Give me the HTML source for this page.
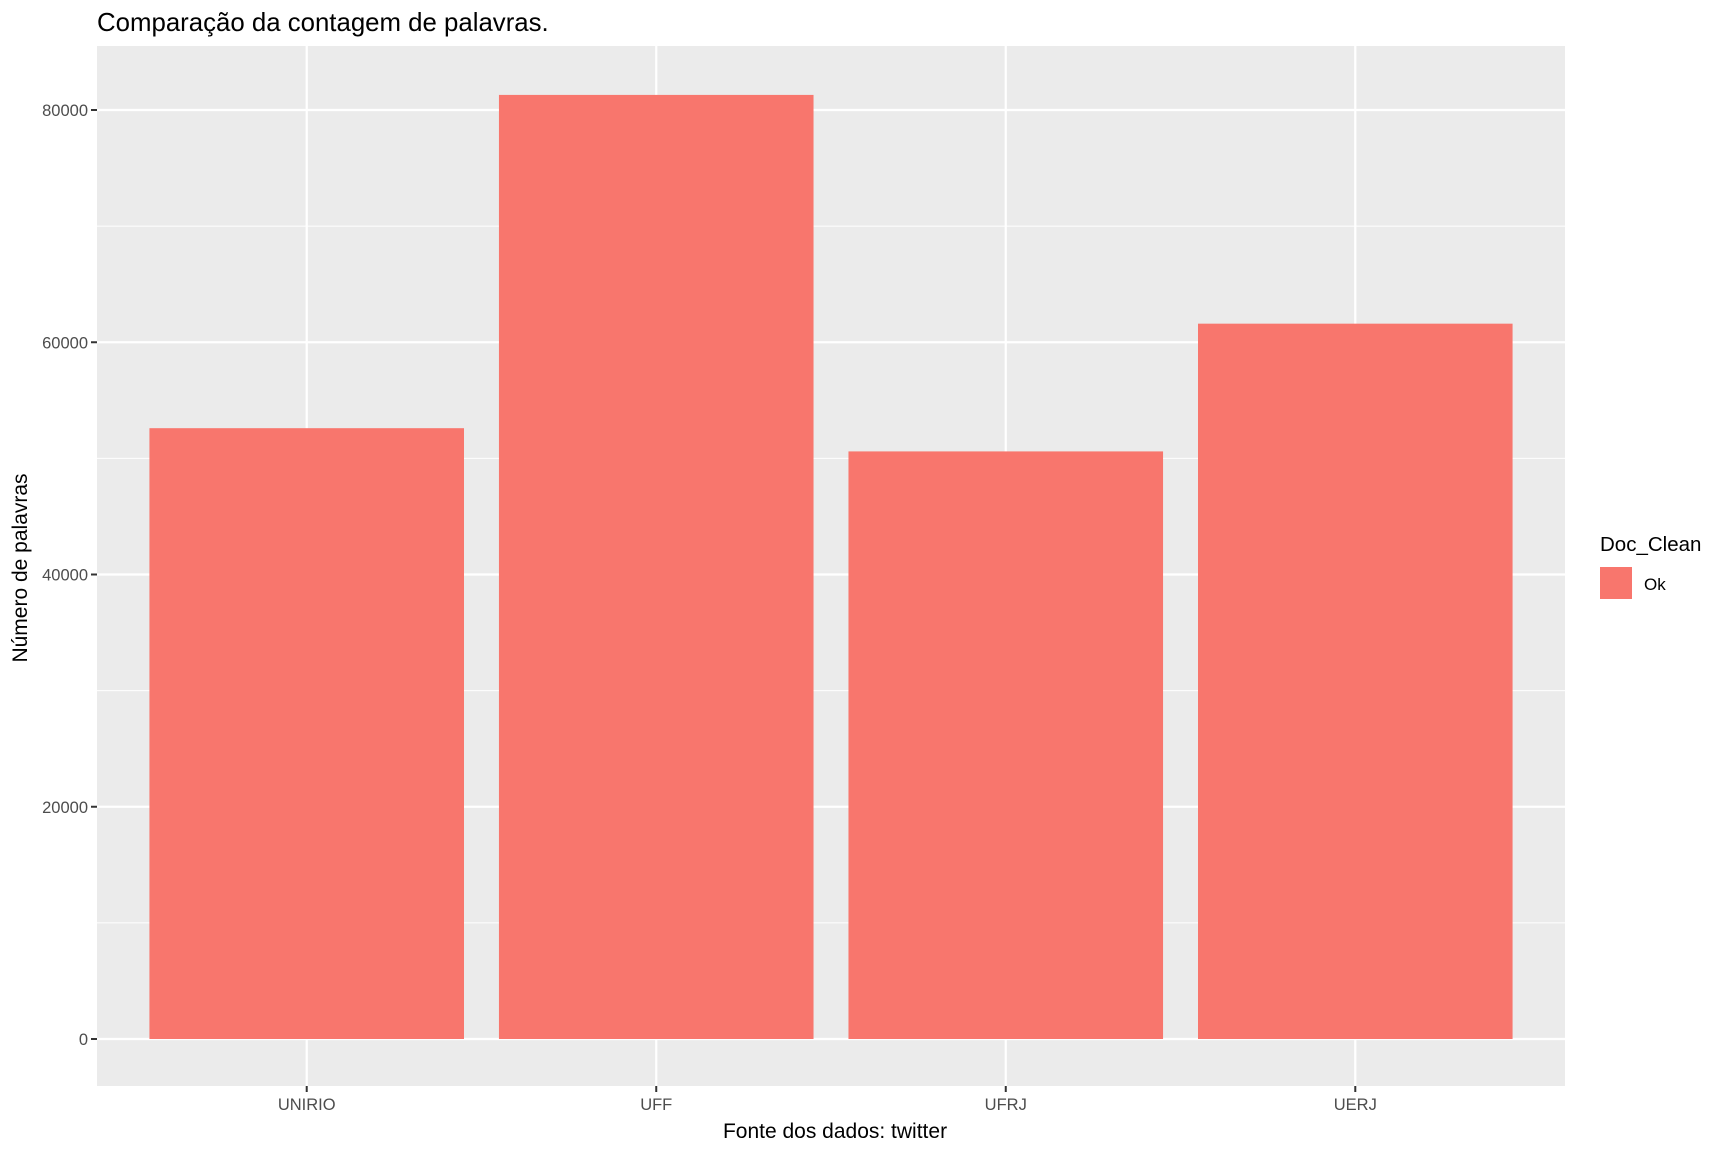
<!DOCTYPE html>
<html><head><meta charset="utf-8"><style>body{margin:0;background:#fff}svg{display:block;font-family:"Liberation Sans",Arial,sans-serif}</style></head>
<body>
<svg id="chart" width="1728" height="1152" viewBox="0 0 1728 1152" xmlns="http://www.w3.org/2000/svg">
<text x="97" y="31" font-size="25.8" fill="#000">Comparação da contagem de palavras.</text>
<rect x="97" y="46" width="1468" height="1040" fill="#ebebeb"/>
<g id="grid"></g><g id="bars"></g><g id="axes"></g>
<text x="835" y="1138" font-size="21" text-anchor="middle" fill="#000">Fonte dos dados: twitter</text>
<text transform="translate(27,568) rotate(-90)" font-size="21" text-anchor="middle" fill="#000">Número de palavras</text>
<g>
<text x="1600" y="551" font-size="20.5" fill="#000">Doc_Clean</text>
<rect x="1600" y="567" width="32" height="32" fill="#f8766d"/>
<text x="1644" y="590" font-size="17" fill="#000">Ok</text>
</g>
</svg>
<script>
const categories = ["UNIRIO","UFF","UFRJ","UERJ"];
const values = [52600, 81300, 50600, 61600];
const yTicks = [0, 20000, 40000, 60000, 80000];
const yTickLabels = ["0","20000","40000","60000","80000"];
const NS="http://www.w3.org/2000/svg";
const px0=97, px1=1565, py0=46, py1=1086;
const y0=1039, yPer=(1039-110)/80000;
function y(v){return y0 - v*yPer;}
const step=(px1-px0)/(categories.length+0.2);
function x(i){return px0 + step*(0.6+i);}
const bw=step*0.9;
function mk(tag,attrs,parent){const e=document.createElementNS(NS,tag);for(const k in attrs)e.setAttribute(k,attrs[k]);document.getElementById(parent).appendChild(e);return e;}
for(let i=0;i<yTicks.length;i++){
  const m=mk('line',{x1:px0,x2:px1,y1:y(yTicks[i]+10000),y2:y(yTicks[i]+10000),stroke:'#fff','stroke-width':1.1},'grid');
  
  
}
yTicks.forEach((t,i)=>{
  const g=mk('line',{x1:px0,x2:px1,y1:y(t),y2:y(t),stroke:'#fff','stroke-width':2.2},'grid');
  
  
  const tk=mk('line',{x1:px0-6,x2:px0,y1:y(t),y2:y(t),stroke:'#333','stroke-width':2},'axes');
  
  
  const tx=mk('text',{x:px0-9,y:y(t)+6,'font-size':16.5,'text-anchor':'end',fill:'#4d4d4d'},'axes');
  tx.textContent=yTickLabels[i];
  
  
});
categories.forEach((c,i)=>{
  const g=mk('line',{x1:x(i),x2:x(i),y1:py0,y2:py1,stroke:'#fff','stroke-width':2.2},'grid');
  
  
  const b=mk('rect',{x:x(i)-bw/2,y:y(values[i]),width:bw,height:y(0)-y(values[i]),fill:'#f8766d'},'bars');
  
  
  const tk=mk('line',{x1:x(i),x2:x(i),y1:py1,y2:py1+6,stroke:'#333','stroke-width':2},'axes');
  
  
  const tx=mk('text',{x:x(i),y:py1+24,'font-size':16.5,'text-anchor':'middle',fill:'#4d4d4d'},'axes');
  tx.textContent=c;
  
  
});
</script>
</body></html>
